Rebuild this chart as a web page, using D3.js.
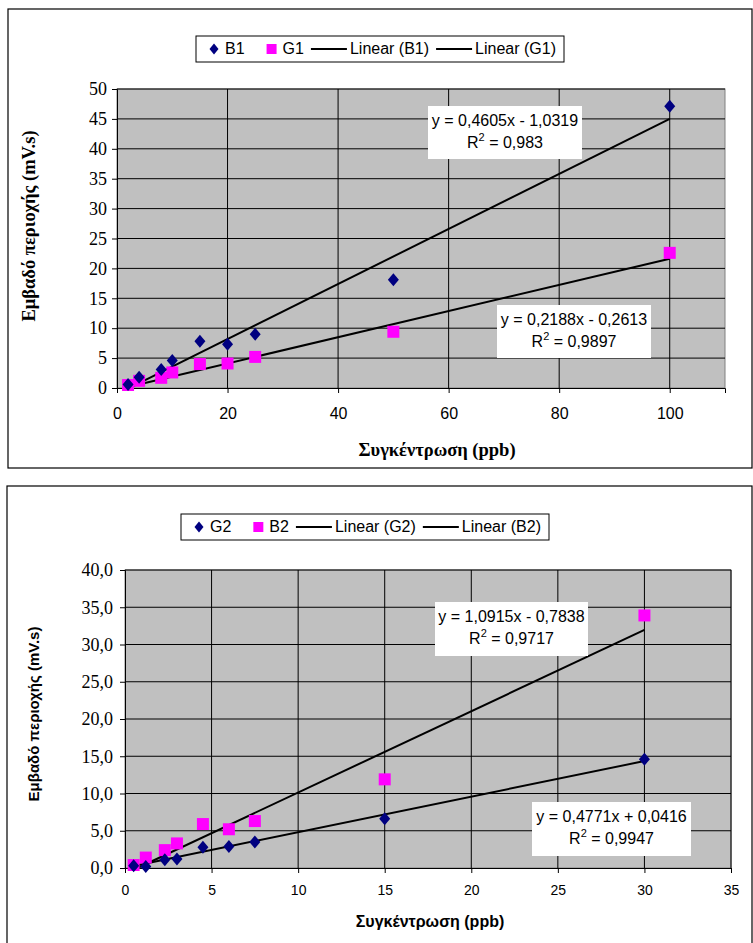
<!DOCTYPE html>
<html>
<head>
<meta charset="utf-8">
<script src="https://cdn.jsdelivr.net/npm/d3@7"></script>
<style>
  body { margin: 0; background: #fff; }
  svg { display: block; }
</style>
</head>
<body>
<div id="plot"></div>
<script>
// chart 1 data
const conc1 = [2, 4, 8, 10, 15, 20, 25, 50, 100];
const b1 = [0.6, 1.8, 3.1, 4.6, 7.8, 7.3, 9.0, 18.1, 47.1];
const g1 = [0.5, 1.2, 1.7, 2.6, 4.0, 4.1, 5.2, 9.4, 22.6];
const xTicks1 = [0, 20, 40, 60, 80, 100];
const yTicks1 = [0, 5, 10, 15, 20, 25, 30, 35, 40, 45, 50];
const fitB1 = [0.4605, -1.0319];
const fitG1 = [0.2188, -0.2613];
const eqB1 = ["y = 0,4605x - 1,0319", "0,983"];
const eqG1 = ["y = 0,2188x - 0,2613", "0,9897"];

// chart 2 data
const conc2 = [0.5, 1.2, 2.3, 3, 4.5, 6, 7.5, 15, 30];
const g2 = [0.3, 0.2, 1.1, 1.2, 2.8, 2.9, 3.5, 6.6, 14.6];
const b2 = [0.4, 1.4, 2.4, 3.3, 5.9, 5.2, 6.3, 11.9, 33.9];
const xTicks2 = [0, 5, 10, 15, 20, 25, 30, 35];
const yTicks2 = [0, 5, 10, 15, 20, 25, 30, 35, 40];
const fitG2 = [0.4771, 0.0416];
const fitB2 = [1.0915, -0.7838];
const eqB2 = ["y = 1,0915x - 0,7838", "0,9717"];
const eqG2 = ["y = 0,4771x + 0,0416", "0,9947"];

const NAVY = "#000080", MAGENTA = "#ff00ff";
const SERIF = '"Liberation Serif"';
const SANS = '"Liberation Sans"';

const svg = d3.select("#plot").append("svg")
    .attr("width", 753)
    .attr("height", 943);

function drawChart(cfg) {
    const g = svg.append("g");

    // outer frame
    g.append("rect")
        .attr("x", cfg.frame[0]).attr("y", cfg.frame[1])
        .attr("width", cfg.frame[2]).attr("height", cfg.frame[3])
        .attr("fill", "#fff").attr("stroke", "#000").attr("stroke-width", 1.2);

    const x = d3.scaleLinear().domain(cfg.xDomain).range([cfg.left, cfg.right]);
    const y = d3.scaleLinear().domain(cfg.yDomain).range([cfg.bottom, cfg.top]);

    // plot area
    g.append("rect")
        .attr("x", cfg.left).attr("y", cfg.top)
        .attr("width", cfg.right - cfg.left).attr("height", cfg.bottom - cfg.top)
        .attr("fill", "#c0c0c0").attr("stroke", "#808080");

    // gridlines
    g.append("g").selectAll("line")
        .data(cfg.yTicks.filter(d => d > 0))
        .join("line")
        .attr("x1", cfg.left).attr("x2", cfg.right)
        .attr("y1", d => y(d)).attr("y2", d => y(d))
        .attr("stroke", "#000").attr("stroke-width", 1);
    g.append("g").selectAll("line")
        .data(cfg.xTicks.filter(d => d > 0))
        .join("line")
        .attr("x1", d => x(d)).attr("x2", d => x(d))
        .attr("y1", cfg.top).attr("y2", cfg.bottom)
        .attr("stroke", "#000").attr("stroke-width", 1);

    // axes
    const xAxis = g.append("g")
        .attr("transform", `translate(0,${cfg.bottom})`)
        .call(d3.axisBottom(x).tickValues(cfg.xTicks).tickSize(5).tickPadding(cfg.xPad).tickFormat(d => d));
    xAxis.select(".domain").attr("stroke", "#000");
    xAxis.selectAll("text")
        .style("font-family", SANS).style("font-size", cfg.xFont + "px").attr("fill", "#000");

    const yAxis = g.append("g")
        .attr("transform", `translate(${cfg.left},0)`)
        .call(d3.axisLeft(y).tickValues(cfg.yTicks).tickSize(5).tickPadding(cfg.yPad).tickFormat(cfg.yFormat));
    yAxis.select(".domain").attr("stroke", "#000");
    yAxis.selectAll("text")
        .style("font-family", SERIF).style("font-size", cfg.yFont + "px").attr("fill", "#000");

    // trendlines
    cfg.series.forEach(s => {
        const xs = d3.extent(s.xs);
        g.append("line")
            .attr("x1", x(xs[0])).attr("y1", y(s.fit[0] * xs[0] + s.fit[1]))
            .attr("x2", x(xs[1])).attr("y2", y(s.fit[0] * xs[1] + s.fit[1]))
            .attr("stroke", "#000").attr("stroke-width", 2);
    });

    // markers (squares first so diamonds show)
    cfg.series.forEach(s => {
        const pts = s.xs.map((v, i) => [v, s.ys[i]]);
        g.append("g").selectAll("path")
            .data(pts)
            .join("path")
            .attr("transform", d => `translate(${x(d[0])},${y(d[1])})`)
            .attr("d", s.shape === "diamond" ? "M0,-6.5L5.5,0L0,6.5L-5.5,0Z" : "M-6,-6H6V6H-6Z")
            .attr("fill", s.color);
    });

    // equation labels
    cfg.labels.forEach(l => {
        const lg = g.append("g");
        lg.append("rect")
            .attr("x", l.box[0]).attr("y", l.box[1])
            .attr("width", l.box[2]).attr("height", l.box[3])
            .attr("fill", "#fff");
        const cx = l.box[0] + l.box[2] / 2;
        lg.append("text")
            .attr("x", cx).attr("y", l.box[1] + 20)
            .attr("text-anchor", "middle")
            .style("font-family", SANS).style("font-size", "16px")
            .text(l.text[0]);
        const t2 = lg.append("text")
            .attr("x", cx).attr("y", l.box[1] + 42)
            .attr("text-anchor", "middle")
            .style("font-family", SANS).style("font-size", "16px");
        t2.append("tspan").text("R");
        t2.append("tspan").attr("dy", -7).style("font-size", "11px").text("2");
        t2.append("tspan").attr("dy", 7).text(" = " + l.text[1]);
    });

    // legend
    const lg = g.append("g").attr("transform", `translate(${cfg.legend[0]},${cfg.legend[1]})`);
    const box = lg.append("rect").attr("fill", "#fff").attr("stroke", "#000");
    const midY = 13;
    let end = 0;
    cfg.legendItems.forEach((it, i) => {
        let tx;
        if (it.type === "line") {
            lg.append("line").attr("x1", end + 7).attr("x2", end + 43)
                .attr("y1", midY).attr("y2", midY)
                .attr("stroke", "#000").attr("stroke-width", 2);
            tx = end + 46;
        } else {
            const mx = i === 0 ? 18 : end + 27;
            lg.append("path")
                .attr("transform", `translate(${mx},${midY})`)
                .attr("d", it.type === "diamond" ? "M0,-5.5L4.5,0L0,5.5L-4.5,0Z" : "M-5,-5H5V5H-5Z")
                .attr("fill", it.color);
            tx = mx + 11;
        }
        const t = lg.append("text").attr("x", tx).attr("y", midY + 5)
            .style("font-family", SANS).style("font-size", "16px").text(it.label);
        end = tx + t.node().getComputedTextLength();
    });
    box.attr("x", 0).attr("y", 0).attr("width", end + 8).attr("height", 26);

    // axis titles
    g.append("text")
        .attr("x", cfg.xTitle[0]).attr("y", cfg.xTitle[1])
        .attr("text-anchor", "middle")
        .style("font-family", cfg.titleFont)
        .style("font-weight", "bold").style("font-size", cfg.xTitleSize + "px")
        .text("Συγκέντρωση (ppb)");
    g.append("text")
        .attr("transform", `translate(${cfg.yTitle[0]},${cfg.yTitle[1]}) rotate(-90)`)
        .attr("text-anchor", "middle")
        .style("font-family", cfg.titleFont)
        .style("font-weight", "bold").style("font-size", cfg.yTitleSize + "px")
        .text("Εμβαδό περιοχής (mV.s)");
}

drawChart({
    frame: [8, 9, 744, 459],
    left: 117, right: 725, top: 89, bottom: 388,
    xDomain: [0, 110], yDomain: [0, 50],
    xTicks: xTicks1, yTicks: yTicks1,
    yFormat: d => d, xFont: 16, yFont: 18, xPad: 15, yPad: 5,
    series: [
        { xs: conc1, ys: g1, fit: fitG1, color: MAGENTA, shape: "square" },
        { xs: conc1, ys: b1, fit: fitB1, color: NAVY, shape: "diamond" }
    ],
    labels: [
        { box: [428, 106, 154, 53], text: eqB1 },
        { box: [497, 305, 154, 53], text: eqG1 }
    ],
    legend: [196, 36],
    legendItems: [
        { type: "diamond", color: NAVY, label: "B1" },
        { type: "square", color: MAGENTA, label: "G1" },
        { type: "line", label: "Linear (B1)" },
        { type: "line", label: "Linear (G1)" }
    ],
    xTitle: [437, 456], yTitle: [35, 226],
    titleFont: SERIF, xTitleSize: 18.5, yTitleSize: 18.5
});

drawChart({
    frame: [7, 486, 745, 470],
    left: 125, right: 731, top: 570, bottom: 868,
    xDomain: [0, 35], yDomain: [0, 40],
    xTicks: xTicks2, yTicks: yTicks2,
    yFormat: d => d3.format(".1f")(d).replace(".", ","), xFont: 14, yFont: 18, xPad: 12, yPad: 7,
    series: [
        { xs: conc2, ys: b2, fit: fitB2, color: MAGENTA, shape: "square" },
        { xs: conc2, ys: g2, fit: fitG2, color: NAVY, shape: "diamond" }
    ],
    labels: [
        { box: [435, 602, 153, 54], text: eqB2 },
        { box: [532, 802, 159, 54], text: eqG2 }
    ],
    legend: [181, 514],
    legendItems: [
        { type: "diamond", color: NAVY, label: "G2" },
        { type: "square", color: MAGENTA, label: "B2" },
        { type: "line", label: "Linear (G2)" },
        { type: "line", label: "Linear (B2)" }
    ],
    xTitle: [430, 927], yTitle: [39, 714],
    titleFont: SANS, xTitleSize: 16, yTitleSize: 15
});
</script>
</body>
</html>
